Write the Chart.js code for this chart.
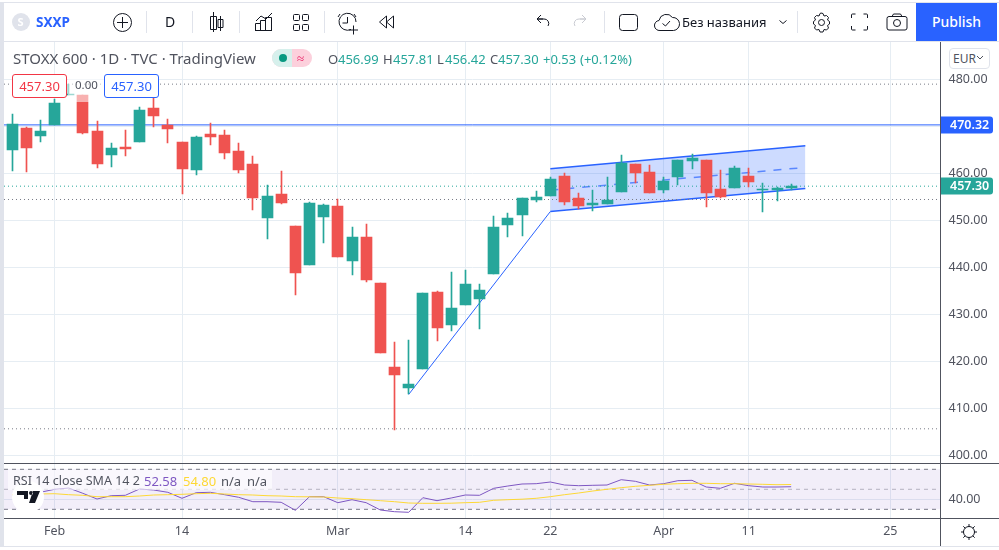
<!DOCTYPE html>
<html><head><meta charset="utf-8">
<script src="https://cdn.jsdelivr.net/npm/chart.js@4"></script>
<style>
html,body{margin:0;padding:0;background:#fff;width:999px;height:550px;overflow:hidden;font-family:"Noto Sans",sans-serif;color:#131722}
.a{position:absolute;white-space:nowrap}
canvas{position:absolute;left:0}
.sep{position:absolute;top:11px;width:1px;height:22px;background:#e0e3eb}
.val{color:#26a69a}
</style></head><body>
<canvas id="main" width="999" height="423" style="top:41px"></canvas>
<canvas id="rsi" width="999" height="82" style="top:464px"></canvas>

<div class="a" style="left:0;top:2px;width:999px;height:1px;background:#e0e3eb"></div>
<div class="a" style="left:0;top:2px;width:4px;height:544px;background:#e0e3eb"></div>
<div class="a" style="left:4px;top:41px;width:995px;height:1px;background:#e0e3eb"></div>
<div class="a" style="left:0;top:546px;width:999px;height:1px;background:#e0e3eb"></div>
<div class="a" style="left:940px;top:42px;width:1px;height:504px;background:#50535e"></div>
<div class="a" style="left:4px;top:463px;width:995px;height:1px;background:#50535e"></div>
<div class="a" style="left:4px;top:518px;width:995px;height:1px;background:#50535e"></div>

<svg class="a" style="left:0;top:0" width="999" height="41" viewBox="0 0 999 41" fill="none" stroke="#131722" stroke-width="1">
 <circle cx="21" cy="22" r="9" fill="#e0e3eb" stroke="none"/>
 <circle cx="122.5" cy="22.5" r="9"/><path d="M122.5 17v11M117 22.5h11"/>
 <path d="M213.5 12v20M210.5 16.5h6v13h-6zM220.5 16v15M218 19.5h5v8h-5z"/>
 <path d="M255.5 30.5v-7h5v7M260.5 30.5v-10h5v10M265.5 30.5v-13h6v13M255 30.5h17M256 21l5-5 5 3 6-6"/>
 <rect x="293.5" y="14.5" width="6" height="6" rx="1"/><rect x="302.5" y="14.5" width="6" height="6" rx="1"/><rect x="293.5" y="24.5" width="6" height="6" rx="1"/><rect x="302.5" y="24.5" width="6" height="6" rx="1"/>
 <path d="M356 22a8.500 8.500 0 1 0-5 7.500M347.500 17v6h-5M340 14l-2 3M354 14l2 3M349 30h9M353.500 25.500v9"/>
 <path d="M386.500 16v12l-7-6zM393.500 16v12l-7-6z"/>
 <path d="M548 19h-6m0 0l4-4m-4 4l4 4M542 19h7a4.500 4.500 0 0 1 4 7" transform="translate(-5 0)"/>
 <path d="M576 19h6m0 0l-4-4m4 4l-4 4M582 19h-7a4.500 4.500 0 0 0-4 7" stroke="#c9cbd2" transform="translate(4 0)"/>
 <rect x="619.500" y="14.500" width="18" height="16" rx="3"/>
 <path d="M660 30.500a5 5 0 0 1-1-10 7.500 7.500 0 0 1 13.500-3 6.500 6.500 0 0 1 1 13zM662.500 23.500l3 2.500 4.500-5"/>
 <path d="M779.500 20.500l3.500 3 3.500-3"/>
 <path d="M821 13l2 .5 1 2.500 2.500-.5 2 2-1 2.500 2 1.500v2.500l-2 1.500 1 2.500-2 2-2.500-.5-1 2.500h-3l-1-2.500-2.500.5-2-2 1-2.500-2-1.500v-2.500l2-1.500-1-2.500 2-2 2.500.5 1-2.500z" stroke-linejoin="round"/><circle cx="821.500" cy="22.500" r="3"/>
 <path d="M851.500 18v-3a1 1 0 0 1 1-1h3M863.500 14h3a1 1 0 0 1 1 1v3M867.500 26v3a1 1 0 0 1-1 1h-3M855.500 30h-3a1 1 0 0 1-1-1v-3"/>
 <rect x="887" y="16.500" width="20" height="13.500" rx="2"/><path d="M892 16.500l1.500-2.500h7l1.500 2.500"/><circle cx="897" cy="23" r="3.500"/>
</svg>
<div class="a" style="left:17.500px;top:14px;color:#fff;font-size:11px;font-weight:700">S</div>
<div class="a" style="left:36px;top:13px;color:#2962ff;font-size:13.500px;font-weight:700">SXXP</div>
<div class="sep" style="left:146px"></div><div class="sep" style="left:192px"></div><div class="sep" style="left:239px"></div><div class="sep" style="left:324px"></div><div class="sep" style="left:604px"></div><div class="sep" style="left:797px"></div>
<div class="a" style="left:165px;top:12px;font-size:14px;font-weight:400">D</div>
<div class="a" style="left:682px;top:13px;font-size:13px">Без названия</div>
<div class="a" style="left:916px;top:3px;width:81px;height:38px;background:#2962ff;color:#fff;font-size:14px;line-height:38px;text-align:center;font-weight:500">Publish</div>

<div class="a" style="left:13px;top:48px;font-size:15px;color:#50535e">STOXX 600 · 1D · TVC · TradingView</div>
<svg class="a" style="left:272px;top:49px" width="40" height="19"><rect width="40" height="18" rx="9" fill="#fcd0dc"/><path d="M9 0h11v18H9a9 9 0 0 1 0-18z" fill="#d6f0ec"/><circle cx="11" cy="9" r="4" fill="#089981"/><text x="25" y="14" font-size="13" fill="#e91e63" font-family="Noto Sans">≈</text></svg>
<div class="a" style="left:328px;top:50px;font-size:13px;color:#50535e">O<span style="position:absolute;left:10px" class="val">456.99</span></div>
<div class="a" style="left:383px;top:50px;font-size:13px;color:#50535e">H<span style="position:absolute;left:10px" class="val">457.81</span></div>
<div class="a" style="left:437px;top:50px;font-size:13px;color:#50535e">L<span style="position:absolute;left:8px" class="val">456.42</span></div>
<div class="a" style="left:490px;top:50px;font-size:13px;color:#50535e">C<span style="position:absolute;left:8px" class="val">457.30</span></div>
<div class="a val" style="left:543px;top:50px;font-size:13px">+0.53</div>
<div class="a val" style="left:580px;top:50px;font-size:13px">(+0.12%)</div>

<div class="a" style="left:68px;top:75px;width:36px;height:27px;background:rgba(255,255,255,.55)"></div>
<div class="a" style="left:12px;top:74px;width:53px;height:22px;border:1px solid #f23645;border-radius:3px;background:#fff;color:#f23645;font-size:13px;line-height:22px;text-align:center">457.30</div>
<div class="a" style="left:75px;top:77px;font-size:11.500px;color:#50535e">0.00</div>
<div class="a" style="left:104px;top:74px;width:53px;height:22px;border:1px solid #2962ff;border-radius:3px;background:#fff;color:#2962ff;font-size:13px;line-height:22px;text-align:center">457.30</div>

<div class="a" style="left:949px;top:48px;width:36px;height:19px;border:1px solid #e0e3eb;border-radius:4px;font-size:12px;line-height:19px;color:#50535e;padding-left:3px;background:#fff">EUR</div>
<svg class="a" style="left:976px;top:55px" width="8" height="6" fill="none" stroke="#50535e"><path d="M1 1l3 3 3-3"/></svg>

<div class="a" style="left:8px;top:470px;width:264px;height:20px;background:rgba(255,255,255,.6)"></div>
<svg class="a" style="left:12px;top:481px" width="32" height="32"><circle cx="16" cy="16" r="16" fill="#fff"/><path d="M5 10h11v8h-4v-4H5zM19 14a2 2 0 1 0 0-4 2 2 0 0 0 0 4zM21 10h7l-5 12h-6z" fill="#131722"/></svg>
<div class="a" style="left:13px;top:472px;font-size:12.500px;color:#50535e">RSI 14 close SMA 14 2</div>
<div class="a" style="left:144px;top:472px;font-size:13px;color:#7e57c2">52.58</div>
<div class="a" style="left:183px;top:472px;font-size:13px;color:#fdd835">54.80</div>
<div class="a" style="left:221px;top:472px;font-size:13px;color:#50535e">n/a</div>
<div class="a" style="left:247px;top:472px;font-size:13px;color:#50535e">n/a</div>
<svg class="a" style="left:960px;top:523px" width="18" height="18" fill="none" stroke="#131722"><circle cx="9" cy="9" r="5.500"/><path d="M9 1v3M9 14v3M1 9h3M14 9h3M3.300 3.300l2 2M12.700 12.700l2 2M3.300 14.700l2-2M12.700 5.300l2-2"/></svg>

<script>
const opens =[464.96,469.64,467.93,470.38,476.66,476.66,469.00,463.89,465.59,466.66,473.89,470.27,466.66,460.70,468.36,468.15,464.74,461.98,450.49,455.59,448.78,440.49,450.70,453.04,441.34,446.45,436.66,418.78,414.32,418.36,434.74,427.72,431.98,433.25,438.57,449.00,451.12,454.32,455.17,459.42,454.74,453.25,453.46,456.02,461.98,460.27,456.45,459.21,462.61,462.83,456.66,456.87,459.42,456.45,456.45,456.99];
const highs =[472.61,469.85,471.34,475.81,479.00,476.66,471.12,466.44,469.21,474.10,476.23,471.55,466.66,467.93,470.70,469.21,466.44,463.68,457.51,460.49,448.78,453.89,453.46,454.53,448.57,449.21,436.66,424.10,424.53,434.53,434.95,439.00,439.42,436.45,450.91,451.55,454.74,456.23,459.21,460.06,455.81,456.45,459.21,463.89,461.98,461.76,459.21,462.83,464.10,462.83,460.70,461.55,461.13,457.93,457.08,457.81];
const lows  =[460.49,460.28,466.66,470.38,476.66,468.36,461.13,461.34,463.68,466.66,469.85,466.44,455.59,459.64,466.02,463.04,460.06,452.19,446.02,453.46,434.10,440.49,445.17,442.19,438.36,436.87,421.76,405.59,413.04,418.36,424.32,426.45,431.98,426.87,438.57,446.45,446.66,453.89,455.17,453.25,452.40,451.98,453.46,456.02,457.93,455.81,455.81,457.51,460.91,452.83,454.74,456.87,457.08,451.76,454.10,456.42];
const closes=[470.49,465.38,469.00,474.95,476.98,468.57,461.98,465.38,465.17,473.46,472.19,469.42,460.91,467.72,467.72,464.32,460.70,454.74,455.17,453.68,438.78,453.68,453.25,442.19,446.45,437.30,421.76,417.08,415.17,434.53,427.08,431.34,436.45,435.17,448.57,450.49,454.74,454.95,458.78,453.89,453.04,453.68,454.32,462.19,460.06,455.81,458.36,462.83,463.25,455.81,454.95,461.13,458.15,456.66,456.87,457.30];
const rsiValues=[43.3,46,47,50,51.3,46,40.3,43.6,44,50.3,49.3,47,41,46.6,47,44.6,42,37.6,37.6,37,29,42.6,42.6,36.6,39.6,36.6,29.3,27.6,27,41.6,38.6,41.3,44.3,44,51,53.3,55.3,55.6,57.3,54.3,53.6,54,54.3,59.6,58,54.3,55.6,58.6,59,52.3,51,56,53.6,52.3,52.3,52.58];
const smaValues=[44.6,45,45.3,45.6,44.6,44,42.6,42.6,42.6,43.3,44.3,44.6,45,45.6,46,45.3,44.6,44.3,43.6,43.3,42.6,42.5,42.3,41.3,40.6,39.6,38.6,37.6,36.3,36,36,36.1,36.6,37,39,39.6,40.1,41,42.6,44.6,46.3,48.3,50,51.6,53,54,55,55.6,56,56,55.6,55.6,55.3,55,54.6,54.8];
const timeIndex=[3,12,23,32,38,46,52,62];
const timeLabels=["Feb","14","Mar","14","22","Apr","11","25"];
const priceTicks=[480,460,450,440,430,420,410,400];
const rsiBands=[70,50,30];
const rsiTick=[40];
const horizontalLine=470.32, lastPrice=457.30;
const dottedLevels=[478.98,454.47,405.74];
const xRange=[-0.565,65.54], xChannel=[38,56], xTrend=[28,38];
const channelTop=[460.98,465.87], channelMid=[456.45,461.28], channelBottom=[451.91,456.81];
const trendLine=[413.04,451.91];
const priceRange=[398.26,488.15], rsiRange=[21.3,75.3];

const UP='#26a69a',DOWN='#ef5350',BLUE='#2962ff',GRID='#e6edf3',TXT='#50535e';
const FONT='"Noto Sans",sans-serif';
const idx=closes.map((_,i)=>i);
const barColors=idx.map(i=>closes[i]>=opens[i]?UP:DOWN);
const hline=(v,extra)=>Object.assign({type:'line',data:xRange.map(x=>({x,y:v})),pointRadius:0,borderWidth:1,order:5},extra);
const seg=(xs,ys,extra)=>Object.assign({type:'line',data:xs.map((x,k)=>({x,y:ys[k]})),pointRadius:0,borderWidth:1,order:6},extra);
const noPad=s=>{s.paddingTop=s.paddingBottom=s.paddingLeft=s.paddingRight=0;};

const snap={id:'snap',beforeDatasetDraw(chart,args){
  const m=args.meta; if(m.type!=='bar')return;
  m.data.forEach(el=>{el.x=Math.floor(el.x)+.5;
    let a=Math.round(el.y),b=Math.round(el.base); if(a===b)b=a+1; el.y=a;el.base=b;});
}};
const axisTags={id:'axisTags',afterDraw(chart){
  const c=chart.ctx,y=chart.scales.y,L=chart.chartArea.right+.5;
  [[horizontalLine,BLUE],[lastPrice,UP]].forEach(([v,col])=>{
    const p=Math.round(y.getPixelForValue(v));
    c.fillStyle=col;c.beginPath();c.roundRect(L,p-8.5,52,17,[0,3,3,0]);c.fill();
    c.fillStyle='#fff';c.font='600 12.5px '+FONT;c.textAlign='left';c.textBaseline='middle';
    c.fillText(v.toFixed(2),L+9,p+.5);
  });
}};
const xScale=(showLabels)=>({type:'linear',offset:false,min:xRange[0],max:xRange[1],
  afterBuildTicks:s=>{s.ticks=timeIndex.map(value=>({value}));},
  afterFit:s=>{s.height=showLabels?28:0;noPad(s);},
  grid:{color:GRID,drawTicks:false,offset:false},border:{display:false},
  ticks:{display:showLabels,autoSkip:false,maxRotation:0,padding:6,color:TXT,font:{family:FONT,size:12.5},
    callback:v=>timeLabels[timeIndex.indexOf(v)]}});
const common={responsive:false,animation:false,devicePixelRatio:1,layout:{autoPadding:false,padding:{left:4,right:0,top:0,bottom:0}},
  plugins:{legend:{display:false},tooltip:{enabled:false}},events:[]};

new Chart(document.getElementById('main'),{type:'bar',plugins:[snap,axisTags],data:{datasets:[
  {type:'bar',data:idx.map(i=>({x:i,y:[opens[i],closes[i]]})),backgroundColor:barColors,barThickness:11,grouped:false,order:1},
  {type:'bar',data:idx.map(i=>({x:i,y:[lows[i],highs[i]]})),backgroundColor:barColors,barThickness:1,grouped:false,order:2},
  hline(horizontalLine,{borderColor:BLUE,order:3}),
  hline(lastPrice,{borderColor:UP,borderDash:[1,3],order:3}),
  ...dottedLevels.map(v=>hline(v,{borderColor:'#787b86',borderDash:[1,3],order:4})),
  seg(xChannel,channelTop,{borderColor:BLUE,borderWidth:1.5,fill:'+2',backgroundColor:'rgba(41,98,255,.23)'}),
  seg(xChannel,channelMid,{borderColor:'rgba(41,98,255,.7)',borderWidth:1.5,borderDash:[8,8]}),
  seg(xChannel,channelBottom,{borderColor:BLUE,borderWidth:1.5}),
  seg(xTrend,trendLine,{borderColor:BLUE,borderWidth:1})
]},options:Object.assign({},common,{scales:{
  x:xScale(false),
  y:{position:'right',min:priceRange[0],max:priceRange[1],afterFit:s=>{s.width=58.5;noPad(s);},
     grid:{color:GRID,drawTicks:false},border:{display:false},
     ticks:{stepSize:10,includeBounds:false,padding:8,color:TXT,font:{family:FONT,size:12.5},
       callback:v=>priceTicks.includes(v)?v.toFixed(2):''}}
}})});

new Chart(document.getElementById('rsi'),{type:'line',data:{datasets:[
  seg(xRange,[rsiBands[0],rsiBands[0]],{borderColor:'#787b86',borderDash:[4,4],fill:'+2',backgroundColor:'rgba(126,87,194,.1)',order:4}),
  seg(xRange,[rsiBands[1],rsiBands[1]],{borderColor:'rgba(120,123,134,.5)',borderDash:[4,4],order:4}),
  seg(xRange,[rsiBands[2],rsiBands[2]],{borderColor:'#787b86',borderDash:[4,4],order:4}),
  seg(idx,smaValues,{borderColor:'#fdd835',order:1}),
  seg(idx,rsiValues,{borderColor:'#7e57c2',order:2})
]},options:Object.assign({},common,{scales:{
  x:xScale(true),
  y:{position:'right',min:rsiRange[0],max:rsiRange[1],afterFit:s=>{s.width=58.5;noPad(s);},
     afterBuildTicks:s=>{s.ticks=rsiTick.map(value=>({value}));},
     grid:{color:GRID,drawTicks:false},border:{display:false},
     ticks:{padding:8,color:TXT,font:{family:FONT,size:12.5},callback:v=>v.toFixed(2)}}
}})});
</script>
</body></html>
